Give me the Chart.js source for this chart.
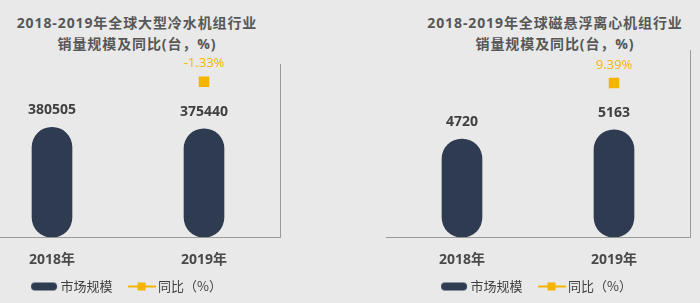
<!DOCTYPE html>
<html>
<head>
<meta charset="utf-8">
<script src="https://cdn.jsdelivr.net/npm/chart.js@4.4.0/dist/chart.umd.min.js"></script>
<style>
  body { margin:0; background:#e9e9e9; width:700px; height:303px; overflow:hidden; position:relative;
         font-family:"Open Sans","Noto Sans CJK SC",sans-serif; }
  .title { position:absolute; text-align:center; color:#575757; font-weight:bold; font-size:14px;
           line-height:21px; letter-spacing:0.9px; white-space:nowrap; }
  .box { position:absolute; top:0; height:303px; }
</style>
</head>
<body>
<div class="title" style="left:0;width:274px;top:12px">2018-2019年全球大型冷水机组行业<br>销量规模及同比(台，%)</div>
<div class="title" style="left:410px;width:290px;top:12px">2018-2019年全球磁悬浮离心机组行业<br>销量规模及同比(台，%)</div>
<div class="box" style="left:-32px;width:338px"><canvas id="c1"></canvas></div>
<div class="box" style="left:378px;width:330px"><canvas id="c2"></canvas></div>
<script>
// 数据
var categories = ['2018年', '2019年'];
var chillerSales = [380505, 375440];
var chillerYoy = [null, -1.33];
var maglevSales = [4720, 5163];
var maglevYoy = [null, 9.39];
var legendNames = ['市场规模', '同比（%）'];

var colBar = '#2e3b50';
var colYoy = '#f5b400';
var colAxis = '#9a9a9a';

// legend icons
function iconCapsule() {
    var c = document.createElement('canvas');
    c.width = 28; c.height = 10;
    var x = c.getContext('2d');
    x.fillStyle = colBar;
    x.beginPath();
    x.roundRect(1, 1, 26, 8, 4);
    x.fill();
    return c;
}
function iconLine() {
    var c = document.createElement('canvas');
    c.width = 28; c.height = 10;
    var x = c.getContext('2d');
    x.fillStyle = colYoy;
    x.fillRect(0, 4, 28, 2);
    x.fillRect(10, 1, 8, 8);
    return c;
}

var valueLabels = {
    id: 'valueLabels',
    afterDatasetsDraw: function (chart) {
        var ctx = chart.ctx;
        chart.data.datasets.forEach(function (ds, i) {
            var meta = chart.getDatasetMeta(i);
            meta.data.forEach(function (el, j) {
                var v = ds.data[j];
                if (v === null) return;
                ctx.save();
                ctx.textAlign = 'center';
                ctx.textBaseline = 'middle';
                if (ds.type === 'line') {
                    ctx.fillStyle = colYoy;
                    ctx.font = '13px "Open Sans"';
                    ctx.fillText(v.toFixed(2) + '%', el.x, el.y - 18);
                } else {
                    ctx.fillStyle = '#404040';
                    ctx.font = 'bold 14px "Open Sans"';
                    ctx.fillText(String(v), el.x, el.y - 17);
                }
                ctx.restore();
            });
        });
    }
};

function makeChart(id, sales, yoy, yMax, y1Min, y1Max, pad) {
    return new Chart(document.getElementById(id), {
        data: {
            labels: categories,
            datasets: [
                {type: 'line', label: legendNames[1], data: yoy, yAxisID: 'y1', borderColor: colYoy,
                 backgroundColor: colYoy, pointStyle: 'rect', pointRadius: 6, borderWidth: 2, order: 0},
                {type: 'bar', label: legendNames[0], data: sales, yAxisID: 'y', backgroundColor: colBar,
                 barThickness: 40, borderRadius: 20, borderSkipped: false, order: 1}
            ]
        },
        options: {
            responsive: true,
            maintainAspectRatio: false,
            animation: false,
            layout: {padding: pad},
            plugins: {
                tooltip: {enabled: false},
                legend: {
                    position: 'bottom',
                    fullSize: false,
                    labels: {
                        usePointStyle: true,
                        pointStyleWidth: 20,
                        padding: 6,
                        color: '#404040',
                        font: {size: 13, family: '"Noto Sans CJK SC"'},
                        generateLabels: function (chart) {
                            // 第一项后面留一个全角空格，拉开两项的间距
                            return [
                                {text: legendNames[0] + '\u3000', pointStyle: iconCapsule(), datasetIndex: 1, fontColor: '#404040', lineWidth: 0, strokeStyle: 'transparent', fillStyle: colBar},
                                {text: legendNames[1], pointStyle: iconLine(), datasetIndex: 0, fontColor: '#404040', lineWidth: 0, strokeStyle: 'transparent', fillStyle: colYoy}
                            ];
                        }
                    }
                }
            },
            scales: {
                x: {
                    grid: {display: false},
                    border: {display: true, color: colAxis, width: 1},
                    ticks: {color: '#4a4a4a', padding: 6, font: {size: 14, weight: 'bold', family: '"Open Sans","Noto Sans CJK SC"'}}
                },
                y: {display: false, min: 0, max: yMax},
                y1: {
                    position: 'right', min: y1Min, max: y1Max,
                    grid: {display: false},
                    ticks: {display: false},
                    border: {display: true, color: colAxis, width: 1}
                }
            }
        },
        plugins: [valueLabels]
    });
}

makeChart('c1', chillerSales, chillerYoy, 600000, -13, 0, {top: 64, right: 18, left: 0, bottom: 0});
makeChart('c2', maglevSales, maglevYoy, 9000, 0, 11.4, {top: 50, right: 10, left: 0, bottom: 0});
</script>
</body>
</html>
